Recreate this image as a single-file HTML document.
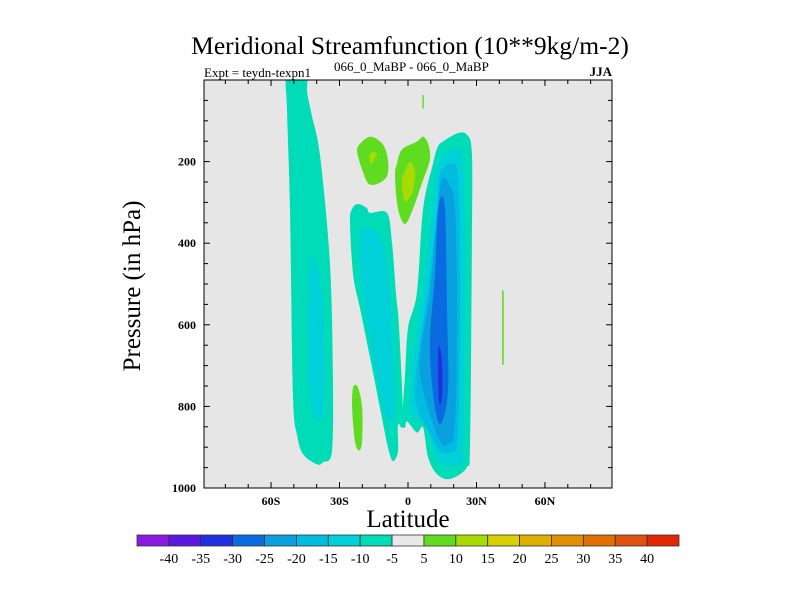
<!DOCTYPE html>
<html><head><meta charset="utf-8"><style>
body{margin:0;background:#fff}
svg{display:block;font-family:"Liberation Serif",serif}
</style></head><body>
<svg id="chart" width="800" height="600" viewBox="0 0 800 600">
<text x="410" y="54" font-size="25.5" text-anchor="middle">Meridional Streamfunction (10**9kg/m-2)</text>
<text x="204" y="77" font-size="13">Expt = teydn-texpn1</text>
<text x="334" y="71" font-size="13">066_0_MaBP - 066_0_MaBP</text>
<text x="612" y="76" font-size="13" font-weight="bold" text-anchor="end">JJA</text>
<rect x="204" y="80" width="408" height="408" fill="#e6e6e6"/>
<g id="fields"></g>
<g id="axes"></g>
<rect x="204" y="80" width="408" height="408" fill="none" stroke="#000" stroke-width="1"/>
<text x="408" y="527" font-size="25" text-anchor="middle">Latitude</text>
<text transform="translate(140,286) rotate(-90)" font-size="25" text-anchor="middle">Pressure (in hPa)</text>
<g id="colorbar"></g>
</svg>
<script>
const levelColors = ["#8a1ae0","#5a18e0","#2030e0","#0a6ae0","#0aa0e0","#00bce0","#00d0d8","#00dcb8","#e8e8e8","#60dc20","#a8dc00","#d8d000","#e0b000","#e09000","#e07000","#e05010","#e02800"];
const levelLabels = ["-40","-35","-30","-25","-20","-15","-10","-5","5","10","15","20","25","30","35","40"];
const latTicks = [-60,-30,0,30,60];
const latTickLabels = ["60S","30S","0","30N","60N"];
const presTicks = [200,400,600,800,1000];
// contour regions: [colour index, [[lat, pressure], ...]]
const regionLevels = [7,6,7,6,7,6,5,4,3,2,9,10,9,10,9,9,9];
const regionSmooth = [1,1,1,1,1,1,1,1,1,1,1,1,1,1,1,0,0];
const regionShapes = [
 [[-53,-10],[-44.7,-10],[-44.2,30],[-42,90],[-38.5,187],[-34.2,448],[-32.9,723],[-33.3,910],[-37.2,937],[-39.9,942],[-46,917],[-48.6,869],[-50.4,771],[-51.7,316],[-53,73]],
 [[-42.9,438],[-39.4,462],[-37.2,560],[-36.4,723],[-37.2,813],[-39.4,837],[-42,813],[-43.8,723],[-43.8,560]],
 [[-24.5,316],[-21.9,304],[-18,314],[-16.6,326],[-9.2,326],[-7,399],[-5.3,521],[-3.9,608],[-2.2,837],[-4.4,844],[-4.4,910],[-6.6,934],[-8.8,900],[-12.3,803],[-16.6,681],[-21,560],[-24,479],[-25.4,350]],
 [[-21,375],[-18,365],[-13.6,375],[-10,423],[-7.9,521],[-6.6,642],[-5.7,803],[-7,837],[-11,803],[-15.3,681],[-18.8,560],[-21,462]],
 [[15.3,151],[21.5,131],[25.8,134],[28,180],[28,399],[27.2,886],[25.8,949],[18.4,978],[12.7,966],[8.8,925],[6.6,852],[3.9,864],[-0.4,837],[-1.3,852],[-2.6,837],[-1.3,723],[0,608],[3.9,521],[6.6,316],[11,204],[13.1,163]],
 [[16.2,180],[21.5,170],[24.1,204],[25,479],[24.1,900],[21.5,942],[15.3,942],[11,900],[8.3,844],[2.2,827],[0.9,771],[2.2,681],[4.4,601],[8.3,438],[11.8,253],[14,195]],
 [[14,229],[19.3,204],[21.9,236],[22.8,479],[21.9,869],[19.3,910],[14,910],[9.6,869],[3.9,803],[3.1,747],[5.3,642],[9.6,479],[12.7,316]],
 [[14.9,243],[18.4,260],[20.6,316],[21.5,560],[20.6,844],[17.5,893],[14,886],[9.6,820],[5.3,723],[6.1,642],[9.6,521],[12.7,333]],
 [[14,292],[16.2,316],[17.1,560],[17.5,764],[14,844],[11,771],[9.6,642],[11.8,479],[12.7,358]],
 [[13.6,650],[14.9,691],[14.9,779],[13.6,788],[13.1,691]],
 [[-21.9,163],[-16.6,139],[-11,158],[-8.8,195],[-9.2,236],[-13.6,255],[-17.5,253],[-20.1,219],[-21.9,187]],
 [[-16.6,180],[-13.6,180],[-15.3,200],[-16.6,204]],
 [[-2.6,170],[3.9,151],[6.6,139],[8.8,156],[9.6,195],[6.1,253],[2.2,316],[-1.3,353],[-4.4,316],[-5.7,236],[-4.8,204]],
 [[0.9,200],[3.1,229],[1.8,277],[-1.3,297],[-2.6,260],[-2.2,236]],
 [[-24,752],[-21.9,754],[-20.1,803],[-20.1,886],[-21.5,908],[-23.2,886],[-24.5,803]],
 [[6.3,37],[6.9,37],[6.9,70],[6.3,70]],
 [[41.2,516],[41.9,516],[41.9,698],[41.2,698]]
];
const NS='http://www.w3.org/2000/svg';
const X0=204,X1=612,Y0=80,Y1=488;
function xs(lat){return 408+lat*2.283;}
function ys(p){return Y0+p*0.408;}
function mk(tag,attrs,parent){const e=document.createElementNS(NS,tag);for(const k in attrs)e.setAttribute(k,attrs[k]);parent.appendChild(e);return e;}
function smoothPath(pts){
  const n=pts.length;let d='M'+pts[0][0].toFixed(1)+','+pts[0][1].toFixed(1);
  for(let i=0;i<n;i++){
    const p0=pts[(i-1+n)%n],p1=pts[i],p2=pts[(i+1)%n],p3=pts[(i+2)%n];
    const t=0.16;
    const c1=[p1[0]+(p2[0]-p0[0])*t,p1[1]+(p2[1]-p0[1])*t];
    const c2=[p2[0]-(p3[0]-p1[0])*t,p2[1]-(p3[1]-p1[1])*t];
    d+='C'+c1[0].toFixed(1)+','+c1[1].toFixed(1)+' '+c2[0].toFixed(1)+','+c2[1].toFixed(1)+' '+p2[0].toFixed(1)+','+p2[1].toFixed(1);
  }
  return d+'Z';
}
const fields=document.getElementById('fields');
const clip=mk('clipPath',{id:'plotclip'},mk('defs',{},fields));
mk('rect',{x:X0,y:Y0,width:X1-X0,height:Y1-Y0},clip);
fields.setAttribute('clip-path','url(#plotclip)');
regionShapes.forEach((shape,i)=>{
  const pts=shape.map(pt=>[xs(pt[0]),ys(pt[1])]);
  const d=regionSmooth[i]?smoothPath(pts):'M'+pts.map(p=>p[0].toFixed(1)+','+p[1].toFixed(1)).join('L')+'Z';
  const el=mk('path',{d:d,fill:levelColors[regionLevels[i]],stroke:'none'},fields);
  
  
});
const axes=document.getElementById('axes');
for(let lat=-80;lat<=80;lat+=10){
  const major=latTicks.includes(lat);const len=major?6:4;const x=xs(lat);
  let t=mk('line',{x1:x,x2:x,y1:Y1,y2:Y1-len,stroke:'#000','stroke-width':1},axes);
  
  
  t=mk('line',{x1:x,x2:x,y1:Y0,y2:Y0+len,stroke:'#000','stroke-width':1},axes);
  
  
}
latTicks.forEach((lat,i)=>{
  const t=mk('text',{x:xs(lat),y:Y1+17,'font-size':12,'font-weight':'bold','text-anchor':'middle'},axes);
  t.textContent=latTickLabels[i];
  
  
});
for(let p=50;p<=1000;p+=50){
  const major=presTicks.includes(p);const len=major?6:4;const y=ys(p);
  let t=mk('line',{x1:X0,x2:X0+len,y1:y,y2:y,stroke:'#000','stroke-width':1},axes);
  
  
  t=mk('line',{x1:X1,x2:X1-len,y1:y,y2:y,stroke:'#000','stroke-width':1},axes);
  
  
}
presTicks.forEach(p=>{
  const t=mk('text',{x:X0-8,y:ys(p)+4,'font-size':12,'font-weight':'bold','text-anchor':'end'},axes);
  t.textContent=String(p);
  
  
});
const cb=document.getElementById('colorbar');
const cbx=137,cbw=542,cby=535,cbh=11,bw=cbw/levelColors.length;
levelColors.forEach((c,i)=>{
  const r=mk('rect',{x:cbx+i*bw,y:cby,width:bw,height:cbh,fill:c,stroke:'#333','stroke-width':0.8},cb);
  
  
});
levelLabels.forEach((l,i)=>{
  const t=mk('text',{x:cbx+(i+1)*bw,y:563,'font-size':14,'text-anchor':'middle'},cb);
  t.textContent=l;
  
  
});
</script>
</body></html>
